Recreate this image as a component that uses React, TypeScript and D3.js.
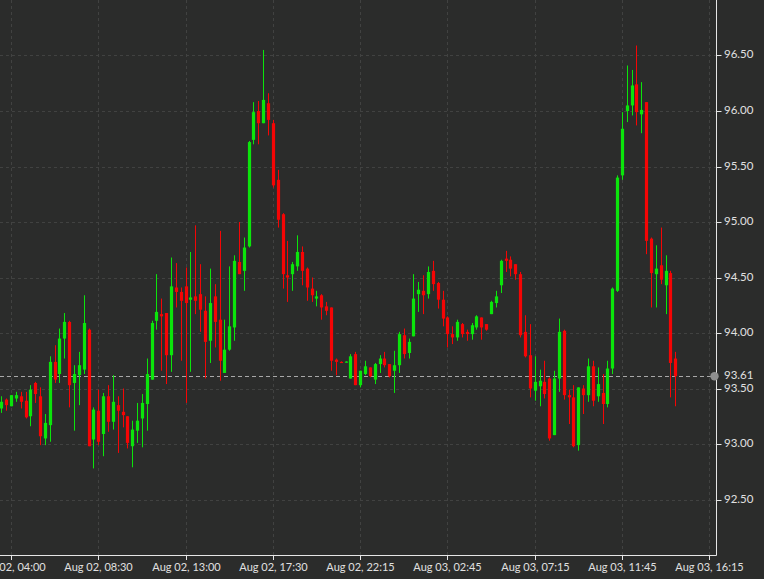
import * as d3 from "d3";

const WIDTH = 764;
const HEIGHT = 579;
const PLOT = { right: 716.5, bottom: 555 };

// 15-min candles, index 0 = leftmost visible bar
const opens = [
  93.32, 93.4, 93.34, 93.41, 93.43, 93.39, 93.25, 93.55, 93.43, 93.05,
  93.17, 93.74, 93.63, 93.95, 94.1, 93.55, 93.62, 93.67, 94.03, 93.04,
  93.3, 93.09, 93.43, 93.2, 93.35, 93.29, 93.25, 92.98, 93.12, 93.23,
  93.36, 93.58, 94.11, 94.17, 94.18, 93.8, 94.41, 94.37, 94.42, 94.3,
  94.33, 94.35, 94.2, 93.93, 94.33, 94.12, 93.64, 93.85, 94.05, 94.64,
  94.56, 94.78, 95.74, 96.0, 95.89, 96.07, 95.89, 95.38, 95.07, 94.52,
  94.53, 94.6, 94.73, 94.58, 94.4, 94.31, 94.34, 94.24, 94.23, 93.76,
  93.74, 93.737, 93.59, 93.81, 93.53, 93.63, 93.69, 93.58, 93.72, 93.77,
  93.72, 93.66, 93.71, 93.98, 93.82, 93.97, 94.35, 94.38, 94.35, 94.56,
  94.45, 94.3, 94.14, 93.99, 93.96, 94.08, 94.01, 93.99, 94.05, 94.14,
  94.08, 94.17, 94.27, 94.43, 94.67, 94.66, 94.62, 94.53, 94.01, 93.8,
  93.48, 93.52, 93.56, 93.59, 93.08, 93.59, 94.02, 93.44, 93.42, 92.99,
  93.5, 93.44, 93.7, 93.43, 93.46, 93.36, 93.68, 94.38, 95.42, 96.0,
  96.05, 96.24, 95.97, 96.08, 94.85, 94.53, 94.61, 94.43, 94.54, 93.77,
];
const highs = [
  93.43, 93.41, 93.44, 93.47, 93.47, 93.47, 93.53, 93.56, 93.51, 93.27,
  93.79, 93.89, 94.04, 94.18, 94.11, 93.71, 93.83, 94.34, 94.04, 93.33,
  93.49, 93.46, 93.53, 93.62, 93.43, 93.5, 93.25, 93.21, 93.37, 93.45,
  93.77, 94.11, 94.53, 94.31, 94.18, 94.68, 94.63, 94.41, 94.59, 94.73,
  94.97, 94.62, 94.33, 94.58, 94.44, 94.92, 94.12, 94.6, 94.7, 95.0,
  94.86, 95.73, 96.08, 96.09, 96.55, 96.16, 95.92, 95.47, 95.08, 94.83,
  94.64, 94.88, 94.78, 94.59, 94.5, 94.38, 94.35, 94.28, 94.23, 93.77,
  93.745, 93.745, 93.81, 93.83, 93.66, 93.75, 93.69, 93.73, 93.8, 93.83,
  93.72, 93.84, 94.01, 94.04, 93.95, 94.53, 94.46, 94.52, 94.6, 94.65,
  94.46, 94.38, 94.15, 94.06, 94.12, 94.09, 94.03, 94.09, 94.16, 94.14,
  94.08, 94.29, 94.38, 94.66, 94.74, 94.69, 94.62, 94.55, 94.16, 94.08,
  93.79, 93.67, 93.75, 93.6, 93.66, 94.13, 94.03, 93.49, 93.53, 93.51,
  93.53, 93.77, 93.75, 93.69, 93.63, 93.75, 94.41, 95.42, 95.99, 96.41,
  96.37, 96.59, 96.26, 96.08, 94.86, 94.79, 94.95, 94.7, 94.56, 93.83,
];
const lows = [
  93.28, 93.3, 93.34, 93.38, 93.32, 93.23, 93.16, 93.37, 92.99, 92.99,
  93.02, 93.55, 93.55, 93.77, 93.33, 93.12, 93.35, 93.63, 92.98, 92.78,
  92.99, 92.89, 93.11, 93.13, 92.92, 93.15, 92.96, 92.79, 93.01, 92.97,
  93.12, 93.58, 94.03, 93.66, 93.54, 93.65, 94.23, 93.75, 93.37, 93.65,
  94.17, 94.01, 93.59, 93.73, 93.87, 93.57, 93.64, 93.84, 93.93, 94.53,
  94.38, 94.77, 95.7, 95.7, 95.89, 95.78, 95.31, 94.95, 94.4, 94.28,
  94.38, 94.56, 94.43, 94.29, 94.28, 94.24, 94.12, 94.16, 93.66, 93.62,
  93.735, 93.735, 93.59, 93.53, 93.51, 93.62, 93.6, 93.54, 93.64, 93.69,
  93.6, 93.46, 93.64, 93.77, 93.77, 93.97, 94.19, 94.17, 94.31, 94.38,
  94.22, 94.06, 93.87, 93.9, 93.93, 93.96, 93.93, 93.94, 94.03, 93.94,
  94.02, 94.17, 94.23, 94.36, 94.55, 94.51, 94.48, 93.96, 93.78, 93.42,
  93.39, 93.34, 93.41, 93.03, 93.08, 93.47, 93.4, 93.18, 92.97, 92.94,
  93.27, 93.38, 93.34, 93.38, 93.18, 93.33, 93.63, 94.37, 95.38, 95.9,
  95.96, 95.87, 95.8, 94.71, 94.23, 94.23, 94.44, 94.17, 93.42, 93.34,
];
const closes = [
  93.38, 93.35, 93.44, 93.44, 93.38, 93.24, 93.49, 93.45, 93.07, 93.19,
  93.74, 93.58, 93.95, 94.1, 93.53, 93.63, 93.71, 94.09, 92.98, 93.31,
  93.02, 93.43, 93.2, 93.38, 93.3, 93.26, 93.01, 93.13, 93.21, 93.37,
  93.63, 94.09, 94.19, 94.15, 93.8, 94.42, 94.37, 94.29, 94.27, 94.32,
  94.29, 94.21, 93.92, 94.27, 94.1, 93.75, 93.85, 94.06, 94.65, 94.53,
  94.77, 95.72, 95.99, 95.89, 96.1, 95.92, 95.33, 95.02, 94.53, 94.5,
  94.62, 94.73, 94.56, 94.41, 94.34, 94.33, 94.23, 94.2, 93.75, 93.74,
  93.738, 93.743, 93.79, 93.53, 93.66, 93.7, 93.61, 93.72, 93.77, 93.71,
  93.61, 93.71, 93.99, 93.81, 93.92, 94.31, 94.39, 94.34, 94.55, 94.44,
  94.3, 94.13, 93.99, 93.96, 94.1, 93.99, 93.99, 94.07, 94.15, 94.05,
  94.03, 94.28, 94.33, 94.65, 94.65, 94.58, 94.53, 93.98, 93.79, 93.5,
  93.56, 93.57, 93.45, 93.05, 93.59, 94.01, 93.44, 93.42, 92.98, 93.51,
  93.44, 93.7, 93.39, 93.54, 93.36, 93.68, 94.4, 95.4, 95.84, 96.05,
  96.23, 95.99, 96.01, 94.83, 94.54, 94.58, 94.48, 94.56, 93.73, 93.61,
];

const priceTicks = [92.5, 93.0, 93.5, 94.0, 94.5, 95.0, 95.5, 96.0, 96.5];
const timeTickIndex = [2, 20, 38, 56, 74, 92, 110, 128, 146];
const timeTickLabels = [
  "Aug 02, 04:00",
  "Aug 02, 08:30",
  "Aug 02, 13:00",
  "Aug 02, 17:30",
  "Aug 02, 22:15",
  "Aug 03, 02:45",
  "Aug 03, 07:15",
  "Aug 03, 11:45",
  "Aug 03, 16:15",
];
const lastPrice = 93.61;

const UP = "#0be50b";
const DOWN = "#f50505";
const FONT = "Lato, 'Open Sans', sans-serif";

function App() {
  const xScale = d3.scaleLinear().domain([-0.27, 147.5]).range([0, PLOT.right]);
  const yScale = d3.scaleLinear().domain([92, 97]).range([PLOT.bottom, 0]);
  const bodyW = 3.2;

  const candles = opens.map((o, i) => {
    const c = closes[i];
    const up = c >= o;
    const color = up ? UP : DOWN;
    const x = xScale(i);
    const yTop = yScale(Math.max(o, c));
    const yBot = yScale(Math.min(o, c));
    return (
      <g key={i}>
        <line
          x1={Math.round(x) + 0.5}
          x2={Math.round(x) + 0.5}
          y1={yScale(highs[i])}
          y2={yScale(lows[i])}
          stroke={color}
          strokeWidth={1}
        />
        <rect
          x={Math.round(x) + 0.5 - bodyW / 2}
          y={yTop}
          width={bodyW}
          height={Math.max(1.2, yBot - yTop)}
          fill={color}
        />
      </g>
    );
  });

  const hGrid = priceTicks.map((p, i) => (
    <line
      key={i}
      x1={0}
      x2={PLOT.right}
      y1={Math.round(yScale(p)) + 0.5}
      y2={Math.round(yScale(p)) + 0.5}
      stroke="#414241"
      strokeDasharray="3,3"
    />
  ));

  const vGrid = timeTickIndex.map((t, i) => (
    <line
      key={i}
      x1={Math.round(xScale(t)) + 0.5}
      x2={Math.round(xScale(t)) + 0.5}
      y1={0}
      y2={PLOT.bottom}
      stroke="#414241"
      strokeDasharray="3,3"
    />
  ));

  const yLabels = priceTicks.map((p, i) => {
    const y = Math.round(yScale(p)) + 0.5;
    return (
      <g key={i}>
        <line x1={PLOT.right} x2={PLOT.right + 5} y1={y} y2={y} stroke="#e6e6e6" />
        <text
          x={PLOT.right + 7.5}
          y={y}
          dominantBaseline="middle"
          fontSize={11.5}
          fontFamily={FONT}
          fill="#e0e0e0"
        >
          {p.toFixed(2)}
        </text>
      </g>
    );
  });

  const xLabels = timeTickIndex.map((t, i) => {
    const x = Math.round(xScale(t)) + 0.5;
    return (
      <g key={i}>
        <line x1={x} x2={x} y1={PLOT.bottom} y2={PLOT.bottom + 5} stroke="#e6e6e6" />
        <text
          x={x}
          y={568}
          textAnchor="middle"
          dominantBaseline="middle"
          fontSize={11}
          fontFamily={FONT}
          fill="#e0e0e0"
        >
          {timeTickLabels[i]}
        </text>
      </g>
    );
  });

  const yLast = yScale(lastPrice);

  return (
    <div style={{ position: "fixed", left: 0, top: 0, width: WIDTH, height: HEIGHT, background: "#2b2c2b" }}>
      <svg width={WIDTH} height={HEIGHT} style={{ display: "block" }}>
        <defs>
          <clipPath id="plot-clip">
            <rect x={0} y={0} width={PLOT.right} height={PLOT.bottom} />
          </clipPath>
        </defs>
        <rect width={WIDTH} height={HEIGHT} fill="#2b2c2b" />
        {hGrid}
        {vGrid}
        <line
          x1={0}
          x2={PLOT.right}
          y1={Math.round(yLast) + 0.5}
          y2={Math.round(yLast) + 0.5}
          stroke="#a8a8a8"
          strokeDasharray="4,3"
        />
        <g clipPath="url(#plot-clip)">{candles}</g>
        <line x1={PLOT.right} x2={PLOT.right} y1={0} y2={PLOT.bottom + 0.5} stroke="#e6e6e6" />
        <line x1={0} x2={PLOT.right} y1={PLOT.bottom + 0.5} y2={PLOT.bottom + 0.5} stroke="#e6e6e6" />
        {yLabels}
        {xLabels}
        <circle cx={PLOT.right - 2} cy={yLast} r={4.2} fill="#8f8f8f" />
        <text
          x={PLOT.right + 7.5}
          y={yLast}
          dominantBaseline="middle"
          fontSize={11.5}
          fontFamily={FONT}
          fill="#e0e0e0"
        >
          {lastPrice.toFixed(2)}
        </text>
      </svg>
    </div>
  );
}

export default App;
